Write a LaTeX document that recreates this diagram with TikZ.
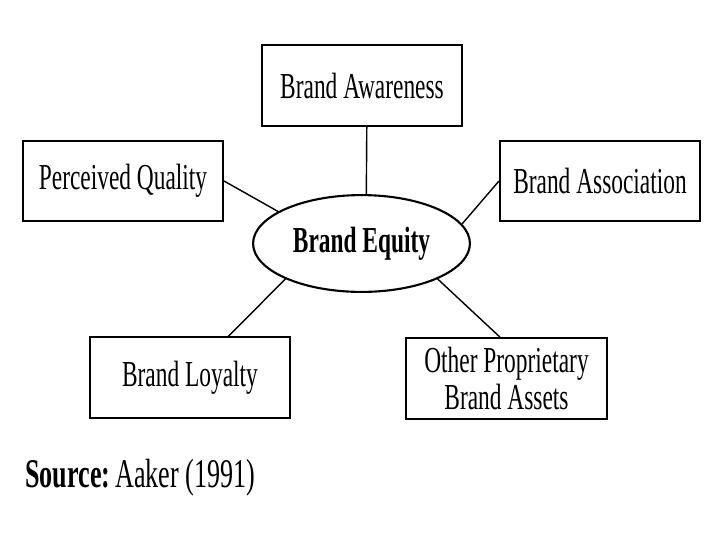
\documentclass[tikz,border=0pt]{standalone}
\usepackage{fontspec}
\setmainfont[FakeStretch=0.64]{Liberation Serif}
\usepackage{tikz}
\usetikzlibrary{shapes.geometric,positioning}
\tikzset{
    facet/.style={
        draw,
        line width=1.4pt,
        minimum width=5cm,
        minimum height=2.02cm,
        align=center,
        font=\fontsize{26}{26.5}\selectfont
    },
    hub/.style={
        draw,
        ellipse,
        line width=1.5pt,
        minimum width=5.42cm,
        minimum height=2.42cm,
        font=\fontsize{26}{26.5}\selectfont\bfseries
    },
    link/.style={
        line width=1pt
    }
}
\begin{document}
\begin{tikzpicture}[x=0.025cm,y=-0.025cm]

    \useasboundingbox (0,0) rectangle (720,540);

    % Centre
    \node[hub] (equity) at (361.5,243.5) {Brand Equity};

    % Dimensions
    \node[facet] (awareness) at (362,85.5) {Brand Awareness};
    \node[facet] (quality) at (123,181) {Perceived Quality};
    \node[facet] (association) at (600,181) {Brand Association};
    \node[facet] (loyalty) at (190,377.5) {Brand Loyalty};
    \node[facet] (assets) at (506.5,378.5) {Other Proprietary\\Brand Assets};

    % Liens
    \draw[link] ([xshift=0.12cm]awareness.south) -- ([xshift=0.12cm]equity.north);
    \draw[link] (quality.east) -- (equity.159);
    \draw[link] (association.west) -- (equity.11);
    \draw[link] (loyalty.47.6) -- (equity.205.5);
    \draw[link] (assets.99) -- (equity.335.6);

    % Source
    \node[
        anchor=base west,
        inner sep=0pt,
        font=\fontsize{29}{31}\selectfont
    ]
        (source) at (25,487)
        {\textbf{Source:}\hspace{0.12em}Aaker (1991)};

\end{tikzpicture}
\end{document}
